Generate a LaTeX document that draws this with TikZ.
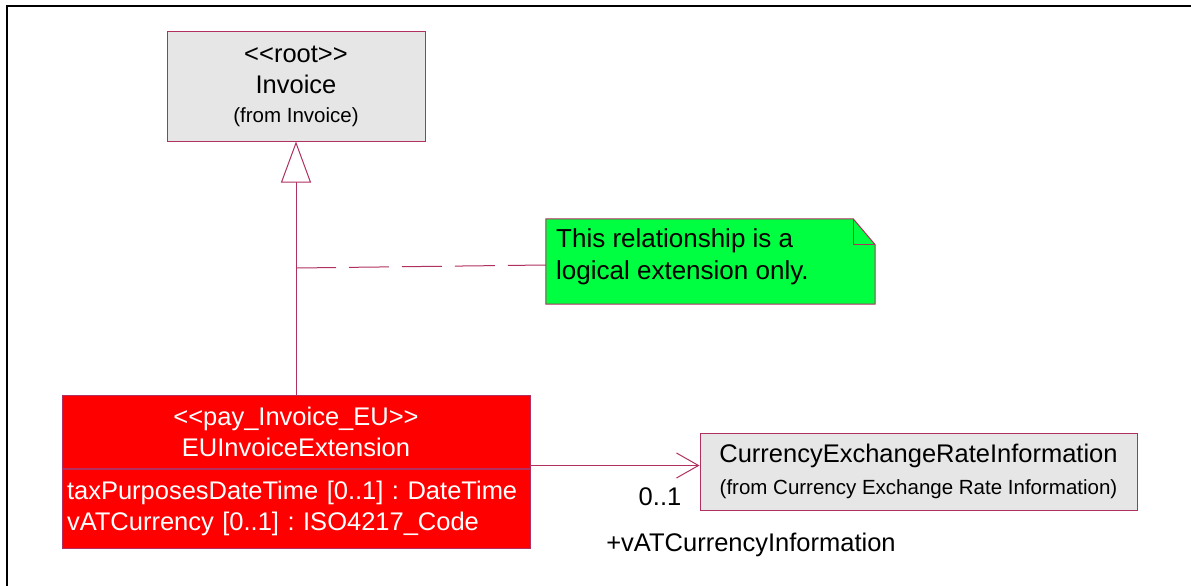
\documentclass[tikz,border=0pt]{standalone}
\usepackage{fontspec}
\setmainfont{Liberation Sans}
\usetikzlibrary{arrows.meta,calc}
\definecolor{umlline}{RGB}{176,48,96}
\definecolor{umlgray}{RGB}{230,230,230}
\definecolor{notegreen}{RGB}{0,255,64}
\newcommand\bigtxt{\fontsize{25.5}{31}\selectfont}
\newcommand\smalltxt{\fontsize{20.5}{24}\selectfont}
\newcommand\stlt{\textless\kern0pt\textless\kern0pt}
\newcommand\stgt{\kern0pt\textgreater\kern0pt\textgreater}
\frenchspacing
\begin{document}
\begin{tikzpicture}[x=1pt,y=-1pt,
  box/.style={draw=umlline, line width=1pt, inner sep=0pt, align=center, font=\bigtxt},
  conn/.style={draw=umlline, line width=1pt},
  lbl/.style={font=\bigtxt, inner sep=0pt}]
\useasboundingbox (0,0) rectangle (1191,586);
\draw[line width=2pt] (7,586) -- (7,6) -- (1191,6);

\node[box, fill=umlgray, minimum width=258pt, minimum height=109pt] (invoice) at (296,86.5)
  {\stlt root\stgt\\ Invoice\\[-2pt] {\smalltxt (from Invoice)}};

\node[box, fill=red, text=white, minimum width=468pt, minimum height=73pt] (eu) at (296,431.5)
  {\stlt pay\_Invoice\_EU\stgt\\ EUInvoiceExtension};
\node[box, fill=red, text=white, text width=458pt, inner xsep=5pt, minimum height=79pt, align=left, anchor=north] (euattr) at (eu.south)
  {taxPurposesDateTime [0..1] : DateTime\\ vATCurrency [0..1] : ISO4217\_Code};

\node[box, fill=umlgray, minimum width=437pt, minimum height=77pt] (cur) at (918.5,471.5)
  {CurrencyExchangeRateInformation\\[1pt] {\smalltxt (from Currency Exchange Rate Information)}};

% note
\node[minimum width=329pt, minimum height=85pt, inner sep=0pt] (note) at (710.5,261.5) {};
\draw[umlline, fill=notegreen, line width=1pt] (note.north west) -- ($(note.north east)+(-22,0)$) -- ($(note.north east)+(0,26)$) -- (note.south east) -- (note.south west) -- cycle;
\draw[umlline, line width=1pt] ($(note.north east)+(-22,0)$) -- ($(note.north east)+(-22,26)$) -- ($(note.north east)+(0,26)$);
\node[lbl, anchor=north west, align=left, font=\fontsize{26}{32}\selectfont] (notetext) at (556,228) {This relationship is a\\ logical extension only.};

% generalization
\draw[conn, -{Triangle[open, length=41pt, width=30pt, fill=white]}] (eu.north) -- (invoice.south);
\coordinate (gy) at (0,268);
\coordinate (gj) at (eu.north |- gy);
\coordinate (nj) at ($(note.west)+(0,3.5)$);
\draw[conn, dash pattern=on 40pt off 13pt] (gj) -- (nj);

% association
\coordinate (a1) at ([yshift=3pt]eu.south east);
\draw[conn, -{Straight Barb[length=22pt, width=25pt]}] (a1) -- (a1 -| cur.west);
\node[lbl] (mult) at (660,497) {0..1};
\node[lbl] (role) at (751,545) {+vATCurrencyInformation};
\end{tikzpicture}
\end{document}
